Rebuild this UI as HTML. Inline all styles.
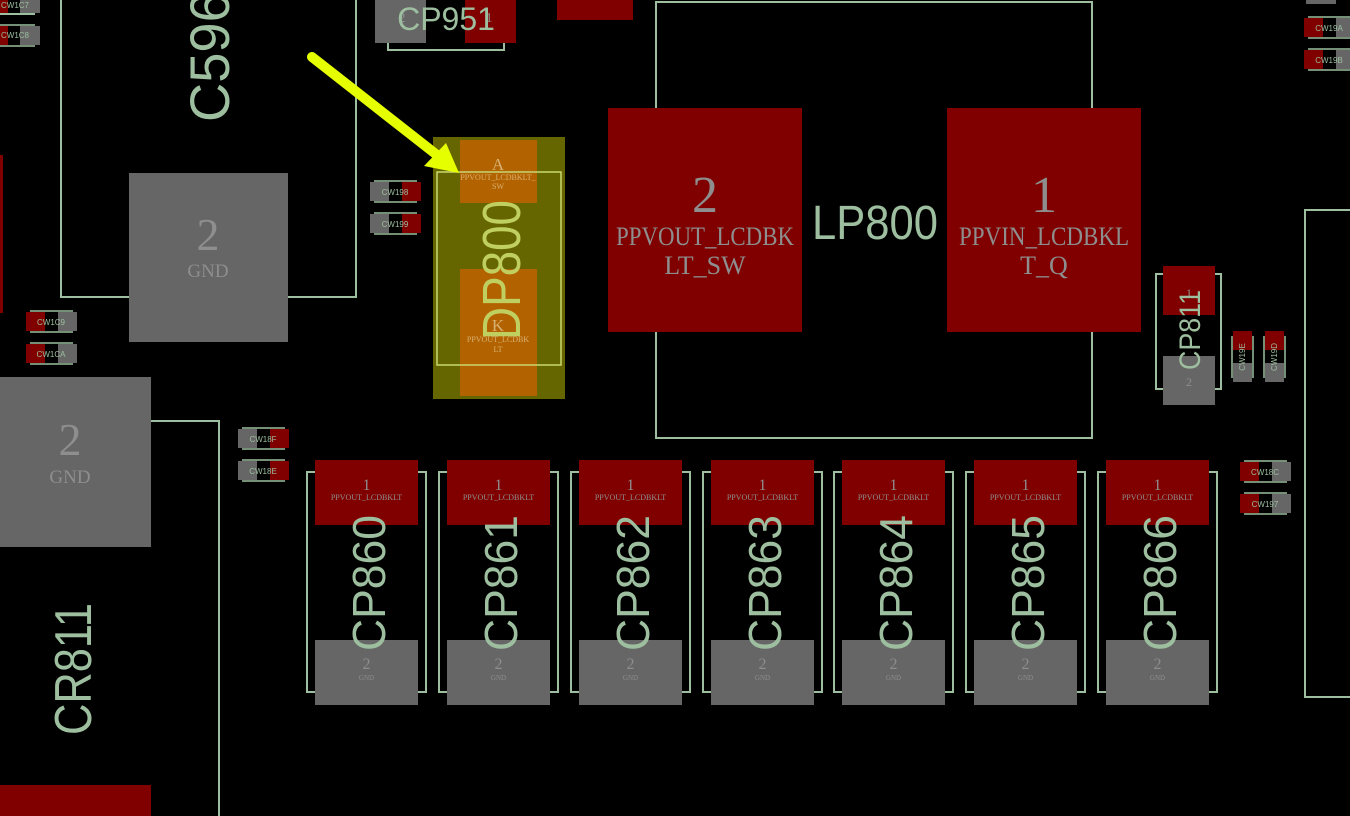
<!DOCTYPE html>
<html><head><meta charset="utf-8"><style>
html,body{margin:0;padding:0;background:#000;width:1350px;height:816px;overflow:hidden}
svg{display:block}
.s{fill:#9dbf9f;font-family:"Liberation Sans",sans-serif}
.p{fill:#8e8e8e;font-family:"Liberation Serif",serif;text-anchor:middle}
.ol{stroke:#9dbf9f;stroke-width:2;fill:none}
.cw{font-family:"Liberation Sans",sans-serif;font-size:8px;fill:#9dbf9f;text-anchor:middle}
</style></head><body>
<svg width="1350" height="816" viewBox="0 0 1350 816" xmlns="http://www.w3.org/2000/svg">
<rect width="1350" height="816" fill="#000"/>

<!-- C5962 -->
<polyline class="ol" points="61,0 61,297 129,297"/>
<polyline class="ol" points="288,297 356,297 356,0"/>
<rect x="129" y="173" width="159" height="169" fill="#666"/>
<text class="p" x="208" y="250" font-size="46">2</text>
<text class="p" x="208" y="277" font-size="19">GND</text>
<text class="s" font-size="56" transform="translate(229,122) rotate(-90)" textLength="160" lengthAdjust="spacingAndGlyphs">C5962</text>
<rect x="0" y="155" width="3" height="158" fill="#800000"/>

<!-- small caps left -->
<g>
<rect x="0" y="-6" width="8" height="19" fill="#800000"/><rect x="20" y="-6" width="20" height="19" fill="#666"/>
<line class="ol" x1="0" y1="14" x2="35" y2="14" stroke-width="1.5"/><text class="cw" x="15" y="8">CW1C7</text>
<rect x="0" y="26" width="8" height="19" fill="#800000"/><rect x="20" y="26" width="20" height="19" fill="#666"/>
<line x1="0" y1="25" x2="35" y2="25" stroke="#9dbf9f" stroke-width="1.5"/><line x1="0" y1="46" x2="35" y2="46" stroke="#9dbf9f" stroke-width="1.5"/><text class="cw" x="15" y="38">CW1C8</text>
</g>
<g>
<rect x="26" y="312" width="19" height="19" fill="#800000"/><rect x="58" y="312" width="19" height="19" fill="#666"/>
<line x1="30" y1="311" x2="73" y2="311" stroke="#9dbf9f" stroke-width="1.5"/><line x1="30" y1="332" x2="73" y2="332" stroke="#9dbf9f" stroke-width="1.5"/><text class="cw" x="51" y="325">CW1C9</text>
<rect x="26" y="344" width="19" height="19" fill="#800000"/><rect x="58" y="344" width="19" height="19" fill="#666"/>
<line x1="30" y1="343" x2="73" y2="343" stroke="#9dbf9f" stroke-width="1.5"/><line x1="30" y1="364" x2="73" y2="364" stroke="#9dbf9f" stroke-width="1.5"/><text class="cw" x="51" y="357">CW1CA</text>
</g>
<g>
<rect x="370" y="182" width="19" height="19" fill="#666"/><rect x="402" y="182" width="19" height="19" fill="#800000"/>
<line x1="374" y1="181" x2="417" y2="181" stroke="#9dbf9f" stroke-width="1.5"/><line x1="374" y1="202" x2="417" y2="202" stroke="#9dbf9f" stroke-width="1.5"/><text class="cw" x="395" y="195">CW198</text>
<rect x="370" y="214" width="19" height="19" fill="#666"/><rect x="402" y="214" width="19" height="19" fill="#800000"/>
<line x1="374" y1="213" x2="417" y2="213" stroke="#9dbf9f" stroke-width="1.5"/><line x1="374" y1="234" x2="417" y2="234" stroke="#9dbf9f" stroke-width="1.5"/><text class="cw" x="395" y="227">CW199</text>
</g>
<g>
<rect x="238" y="429" width="19" height="19" fill="#666"/><rect x="270" y="429" width="19" height="19" fill="#800000"/>
<line x1="242" y1="428" x2="285" y2="428" stroke="#9dbf9f" stroke-width="1.5"/><line x1="242" y1="449" x2="285" y2="449" stroke="#9dbf9f" stroke-width="1.5"/><text class="cw" x="263" y="442">CW18F</text>
<rect x="238" y="461" width="19" height="19" fill="#666"/><rect x="270" y="461" width="19" height="19" fill="#800000"/>
<line x1="242" y1="460" x2="285" y2="460" stroke="#9dbf9f" stroke-width="1.5"/><line x1="242" y1="481" x2="285" y2="481" stroke="#9dbf9f" stroke-width="1.5"/><text class="cw" x="263" y="474">CW18E</text>
</g>

<!-- CR811 -->
<rect x="0" y="377" width="151" height="170" fill="#666"/>
<text class="p" x="70" y="455" font-size="46">2</text>
<text class="p" x="70" y="483" font-size="19">GND</text>
<polyline class="ol" points="151,421 219,421 219,816"/>
<text class="s" font-size="52" transform="translate(91,735) rotate(-90)" textLength="132" lengthAdjust="spacingAndGlyphs">CR811</text>
<rect x="0" y="785" width="151" height="31" fill="#800000"/>

<!-- CP951 -->
<polyline class="ol" points="388,40 388,50 504,50 504,40"/>
<rect x="375" y="0" width="51" height="43" fill="#666"/>
<rect x="465" y="0" width="51" height="43" fill="#800000"/>
<text class="p" x="402" y="22" font-size="14">2</text>
<text class="p" x="489" y="22" font-size="14">1</text>
<text class="s" x="446" y="30" font-size="32" text-anchor="middle">CP951</text>
<rect x="557" y="0" width="76" height="20" fill="#800000"/>

<!-- LP800 -->
<rect class="ol" x="656" y="2" width="436" height="436"/>
<rect x="608" y="108" width="194" height="224" fill="#800000"/>
<rect x="947" y="108" width="194" height="224" fill="#800000"/>
<text class="p" x="705" y="212" font-size="52">2</text>
<text class="p" x="705" y="245" font-size="26" textLength="178" lengthAdjust="spacingAndGlyphs">PPVOUT_LCDBK</text>
<text class="p" x="705" y="274" font-size="26">LT_SW</text>
<text class="p" x="1044" y="212" font-size="52">1</text>
<text class="p" x="1044" y="245" font-size="26" textLength="170" lengthAdjust="spacingAndGlyphs">PPVIN_LCDBKL</text>
<text class="p" x="1044" y="274" font-size="26">T_Q</text>
<text class="s" x="875" y="239" font-size="48" text-anchor="middle" textLength="126" lengthAdjust="spacingAndGlyphs">LP800</text>

<!-- DP800 -->
<rect x="433" y="137" width="132" height="262" fill="#666600"/>
<rect x="460" y="140" width="77" height="63" fill="#b36200"/>
<rect x="460" y="269" width="77" height="127" fill="#b36200"/>
<rect x="437" y="172" width="124" height="193" fill="none" stroke="#c8d870" stroke-width="1.5"/>
<text x="498" y="170" font-size="17" fill="#d8b070" font-family="Liberation Serif,serif" text-anchor="middle">A</text>
<text x="498" y="180" font-size="8" fill="#d8b070" font-family="Liberation Serif,serif" text-anchor="middle">PPVOUT_LCDBKLT_</text>
<text x="498" y="189" font-size="8" fill="#d8b070" font-family="Liberation Serif,serif" text-anchor="middle">SW</text>
<text fill="#c0d060" font-family="Liberation Sans,sans-serif" font-size="54" transform="translate(520,340) rotate(-90)" textLength="140" lengthAdjust="spacingAndGlyphs">DP800</text>
<text x="498" y="331" font-size="17" fill="#d8b070" font-family="Liberation Serif,serif" text-anchor="middle">K</text>
<text x="498" y="342" font-size="8" fill="#d8b070" font-family="Liberation Serif,serif" text-anchor="middle">PPVOUT_LCDBK</text>
<text x="498" y="352" font-size="8" fill="#d8b070" font-family="Liberation Serif,serif" text-anchor="middle">LT</text>

<!-- arrow -->
<line x1="312" y1="57" x2="437" y2="155" stroke="#e6ff00" stroke-width="10" stroke-linecap="round"/>
<polygon points="459,173 424,166 446,143" fill="#e6ff00"/>

<!-- CP811 -->
<polyline class="ol" points="1163,274 1156,274 1156,389 1163,389"/>
<polyline class="ol" points="1215,274 1221,274 1221,389 1215,389"/>
<rect x="1163" y="266" width="52" height="49" fill="#800000"/>
<rect x="1163" y="356" width="52" height="49" fill="#666"/>
<text class="p" x="1189" y="297" font-size="12">1</text>
<text class="p" x="1189" y="386" font-size="12">2</text>
<text class="s" font-size="30" transform="translate(1200,370) rotate(-90)" textLength="80" lengthAdjust="spacingAndGlyphs">CP811</text>

<!-- CW19E / CW19D -->
<g>
<rect x="1233" y="331" width="19" height="19" fill="#800000"/><rect x="1233" y="363" width="19" height="19" fill="#666"/>
<line x1="1232" y1="336" x2="1232" y2="378" stroke="#9dbf9f" stroke-width="1.5"/><line x1="1253" y1="336" x2="1253" y2="378" stroke="#9dbf9f" stroke-width="1.5"/>
<text class="cw" transform="translate(1245,357) rotate(-90)">CW19E</text>
<rect x="1265" y="331" width="19" height="19" fill="#800000"/><rect x="1265" y="363" width="19" height="19" fill="#666"/>
<line x1="1264" y1="336" x2="1264" y2="378" stroke="#9dbf9f" stroke-width="1.5"/><line x1="1285" y1="336" x2="1285" y2="378" stroke="#9dbf9f" stroke-width="1.5"/>
<text class="cw" transform="translate(1277,357) rotate(-90)">CW19D</text>
</g>

<!-- right top caps -->
<rect x="1306" y="0" width="30" height="4" fill="#666"/>
<g>
<rect x="1304" y="18" width="19" height="19" fill="#800000"/><rect x="1336" y="18" width="19" height="19" fill="#666"/>
<line x1="1308" y1="17" x2="1350" y2="17" stroke="#9dbf9f" stroke-width="1.5"/><line x1="1308" y1="38" x2="1350" y2="38" stroke="#9dbf9f" stroke-width="1.5"/><text class="cw" x="1329" y="31">CW19A</text>
<rect x="1304" y="50" width="19" height="19" fill="#800000"/><rect x="1336" y="50" width="19" height="19" fill="#666"/>
<line x1="1308" y1="49" x2="1350" y2="49" stroke="#9dbf9f" stroke-width="1.5"/><line x1="1308" y1="70" x2="1350" y2="70" stroke="#9dbf9f" stroke-width="1.5"/><text class="cw" x="1329" y="63">CW19B</text>
</g>
<polyline class="ol" points="1350,210 1305,210 1305,697 1350,697"/>
<g>
<rect x="1240" y="462" width="19" height="19" fill="#800000"/><rect x="1272" y="462" width="19" height="19" fill="#666"/>
<line x1="1244" y1="461" x2="1287" y2="461" stroke="#9dbf9f" stroke-width="1.5"/><line x1="1244" y1="482" x2="1287" y2="482" stroke="#9dbf9f" stroke-width="1.5"/><text class="cw" x="1265" y="475">CW18C</text>
<rect x="1240" y="494" width="19" height="19" fill="#800000"/><rect x="1272" y="494" width="19" height="19" fill="#666"/>
<line x1="1244" y1="493" x2="1287" y2="493" stroke="#9dbf9f" stroke-width="1.5"/><line x1="1244" y1="514" x2="1287" y2="514" stroke="#9dbf9f" stroke-width="1.5"/><text class="cw" x="1265" y="507">CW197</text>
</g>

<!-- CP860..866 -->
<defs>
<g id="cp">
<polyline class="ol" points="9,472 1,472 1,692 9,692"/>
<polyline class="ol" points="112,472 120,472 120,692 112,692"/>
<rect x="9" y="460" width="103" height="65" fill="#800000"/>
<rect x="9" y="640" width="103" height="65" fill="#666"/>
<text class="p" x="60.5" y="490" font-size="16">1</text>
<text class="p" x="60.5" y="500" font-size="8">PPVOUT_LCDBKLT</text>
<text class="p" x="60.5" y="669" font-size="16">2</text>
<text class="p" x="60.5" y="680" font-size="7">GND</text>
</g>
</defs>
<use href="#cp" x="306"/><use href="#cp" x="438"/><use href="#cp" x="570"/><use href="#cp" x="702"/><use href="#cp" x="833"/><use href="#cp" x="965"/><use href="#cp" x="1097"/>
<g class="s" font-size="46">
<text transform="translate(385,651) rotate(-90)" textLength="136" lengthAdjust="spacingAndGlyphs">CP860</text>
<text transform="translate(517,651) rotate(-90)" textLength="136" lengthAdjust="spacingAndGlyphs">CP861</text>
<text transform="translate(649,651) rotate(-90)" textLength="136" lengthAdjust="spacingAndGlyphs">CP862</text>
<text transform="translate(781,651) rotate(-90)" textLength="136" lengthAdjust="spacingAndGlyphs">CP863</text>
<text transform="translate(912,651) rotate(-90)" textLength="136" lengthAdjust="spacingAndGlyphs">CP864</text>
<text transform="translate(1044,651) rotate(-90)" textLength="136" lengthAdjust="spacingAndGlyphs">CP865</text>
<text transform="translate(1176,651) rotate(-90)" textLength="136" lengthAdjust="spacingAndGlyphs">CP866</text>
</g>
</svg>
</body></html>
